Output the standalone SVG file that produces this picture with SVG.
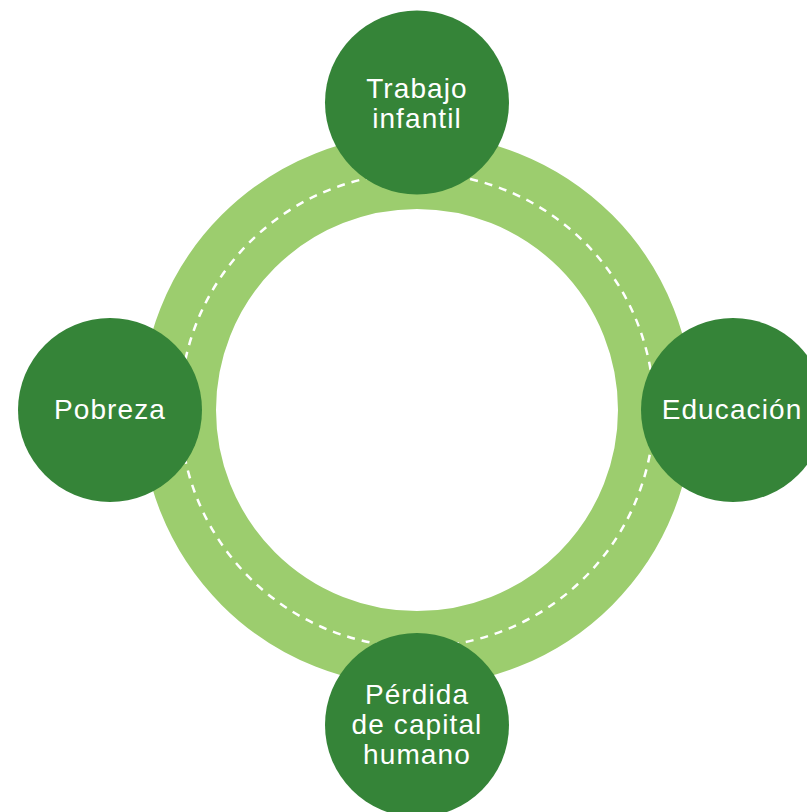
<svg xmlns="http://www.w3.org/2000/svg" width="807" height="812" viewBox="0 0 807 812">
<style>
.node{fill:#358438}
.lbl{fill:#ffffff;font-family:"Liberation Sans",Arial,sans-serif;font-size:28px;text-anchor:middle;letter-spacing:1.1px}
</style>
<rect width="807" height="812" fill="#ffffff"/>
<g id="connectors">
<circle cx="417" cy="410" r="238.5" fill="none" stroke="#9ccd6e" stroke-width="75"/>
<circle cx="417" cy="410" r="237" fill="none" stroke="#ffffff" stroke-width="2.5" stroke-dasharray="8 7"/>
</g>
<g id="trabajo">
<circle class="node" cx="417" cy="102.5" r="92"/>
<text class="lbl" x="417" y="97.5">Trabajo</text>
<text class="lbl" x="417" y="127.5">infantil</text>
</g>
<g id="pobreza">
<circle class="node" cx="110" cy="410" r="92"/>
<text class="lbl" x="110" y="419">Pobreza</text>
</g>
<g id="educacion">
<circle class="node" cx="733" cy="410" r="92"/>
<text class="lbl" x="732" y="418.5">Educación</text>
</g>
<g id="perdida">
<circle class="node" cx="417" cy="725" r="92"/>
<text class="lbl" x="417" y="704">Pérdida</text>
<text class="lbl" x="417" y="734">de capital</text>
<text class="lbl" x="417" y="764">humano</text>
</g>
</svg>
